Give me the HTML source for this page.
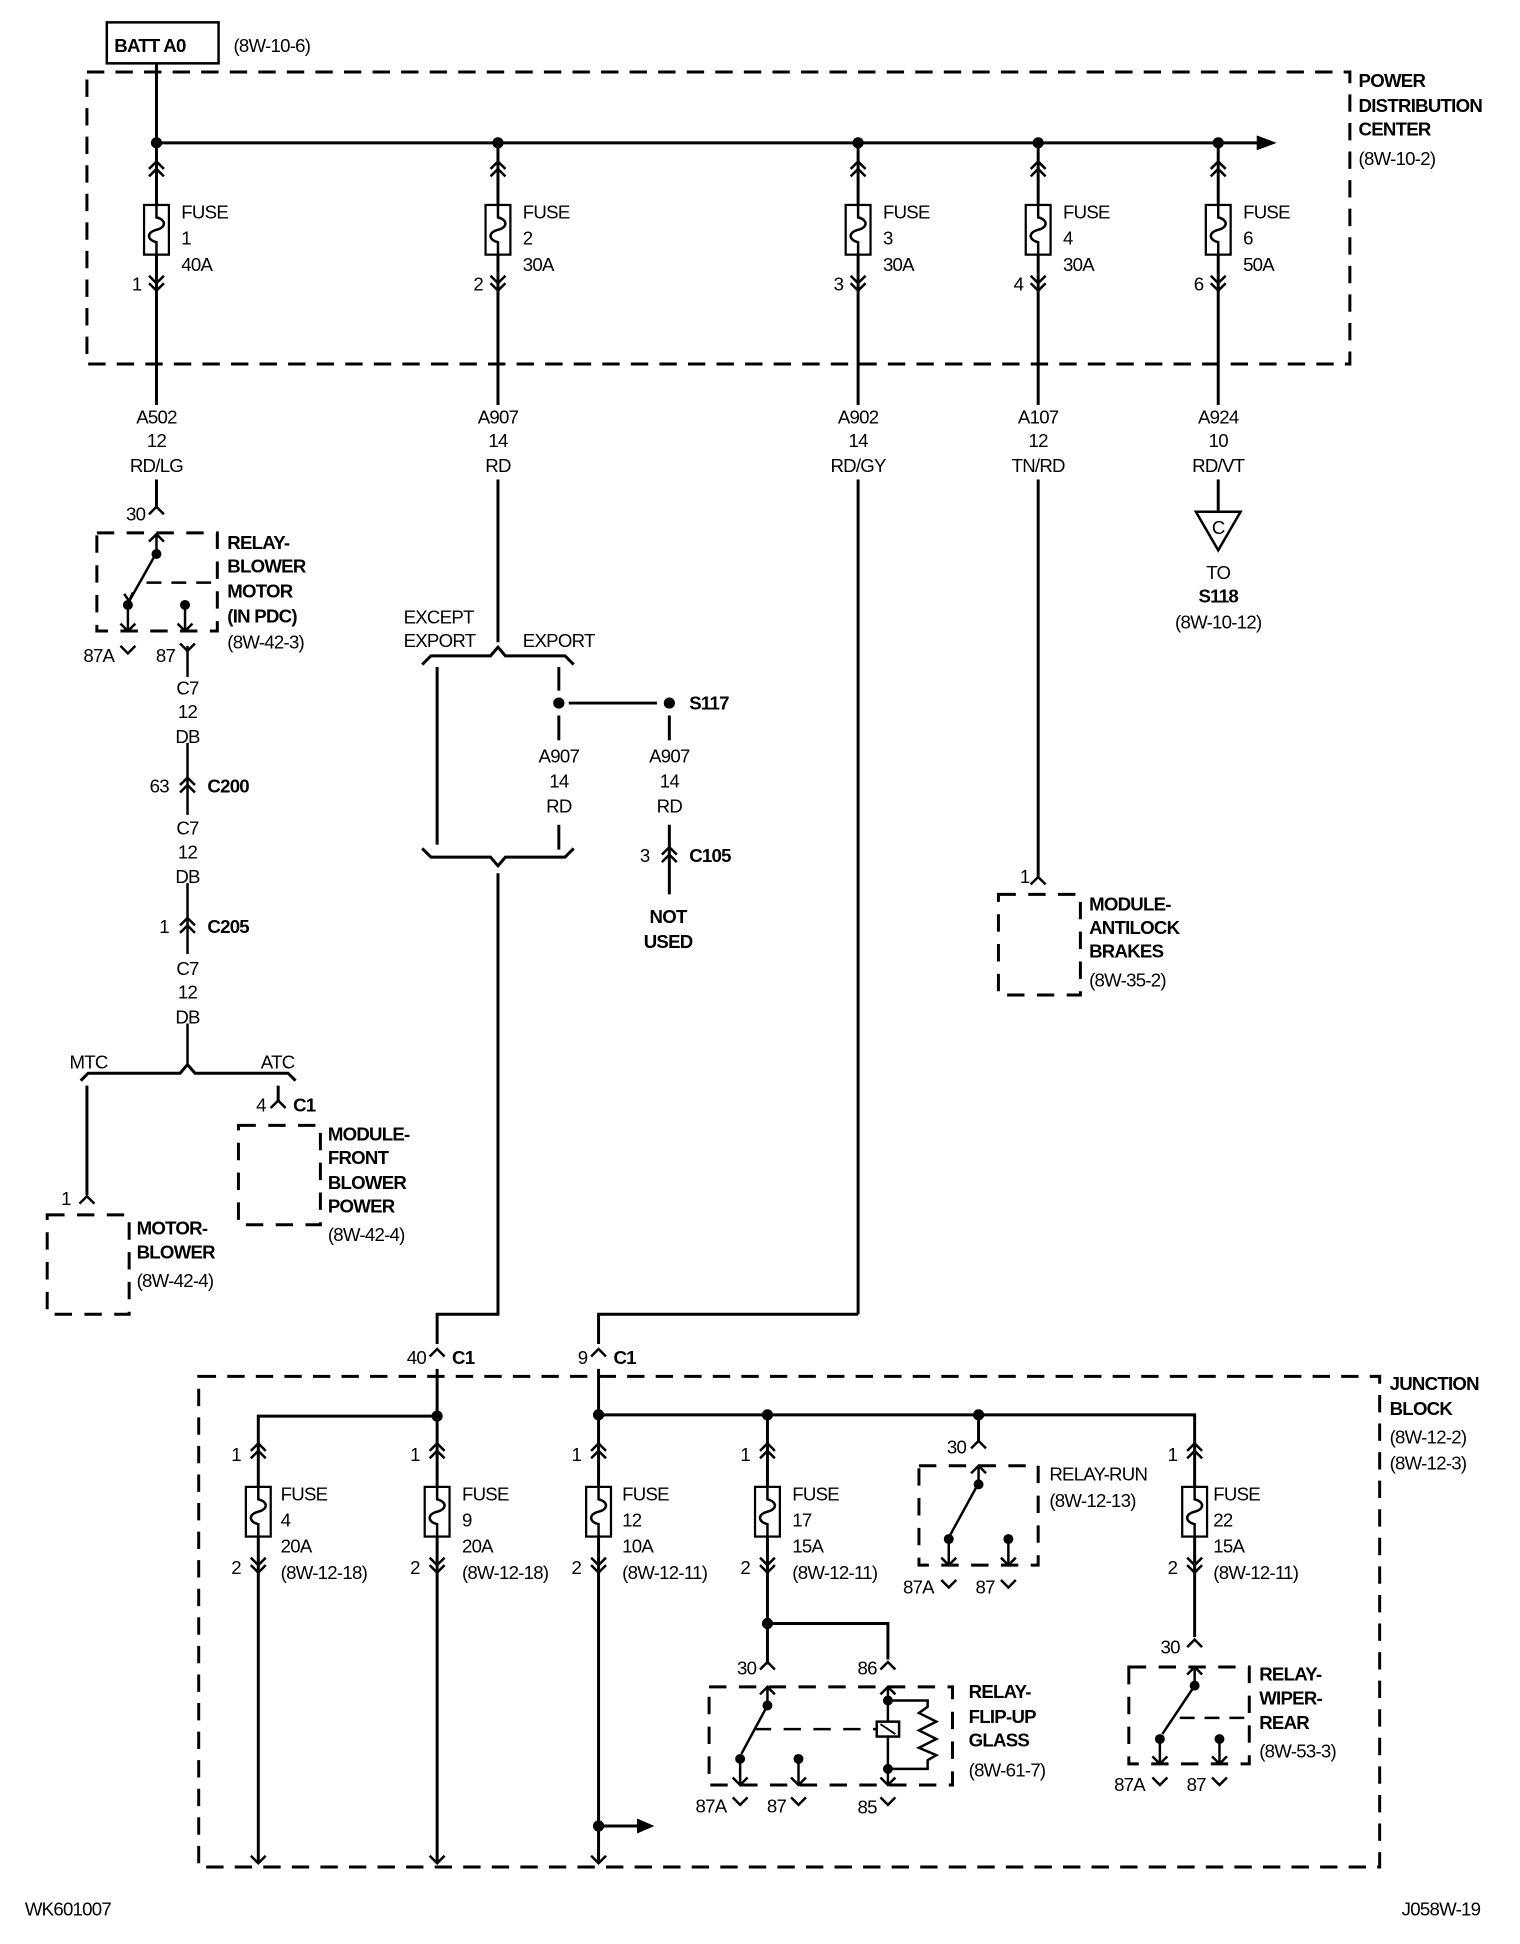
<!DOCTYPE html>
<html><head><meta charset="utf-8"><style>
html,body{margin:0;padding:0;background:#fff;}
svg{display:block;}
text{font-family:"Liberation Sans",Arial,sans-serif;font-size:15px;fill:#000;letter-spacing:-0.6px;}
.b{font-weight:bold;}
.m{text-anchor:middle;}
.e{text-anchor:end;}
</style></head><body>
<svg width="1520" height="1944" viewBox="0 0 1224 1565" preserveAspectRatio="none" xmlns="http://www.w3.org/2000/svg">
<defs>
<path id="cu2" d="M-6,8 L0,2 L6,8 M-6,14 L0,8 L6,14" fill="none" stroke="#000" stroke-width="2"/>
<path id="cd2" d="M-6,0 L0,6 L6,0 M-6,6 L0,12 L6,6" fill="none" stroke="#000" stroke-width="2"/>
<path id="cu1" d="M-6,6 L0,0 L6,6" fill="none" stroke="#000" stroke-width="2"/>
<path id="cd1" d="M-6,0 L0,6 L6,0" fill="none" stroke="#000" stroke-width="2"/>
<g id="fuse"><rect x="-10" y="0" width="20" height="40" fill="#fff" stroke="#000" stroke-width="1.8"/><path d="M0,0 L0,10 C8,12 8,18 0,20 C-8,22 -8,28 0,30 L0,40" fill="none" stroke="#000" stroke-width="2"/></g>
</defs>
<g stroke="#000" stroke-width="2.4" fill="none">
<rect x="70" y="58" width="1017" height="235" stroke-dasharray="14,9"/>
<rect x="86" y="18" width="90" height="33" stroke-width="2"/>
<line x1="126" y1="51" x2="126" y2="408"/>
<line x1="126" y1="115" x2="1015" y2="115"/>
<line x1="401" y1="115" x2="401" y2="517"/>
<line x1="691" y1="115" x2="691" y2="1058"/>
<line x1="836" y1="115" x2="836" y2="706"/>
<line x1="981" y1="115" x2="981" y2="412"/>
</g>
<path d="M1012,109 L1028,115 L1012,121 Z"/>
<g fill="#000"><circle cx="126" cy="115" r="4.5"/><circle cx="401" cy="115" r="4.5"/><circle cx="691" cy="115" r="4.5"/><circle cx="836" cy="115" r="4.5"/><circle cx="981" cy="115" r="4.5"/></g>
<text x="92" y="42" class="b">BATT A0</text>
<text x="188" y="42">(8W-10-6)</text>
<text x="1094" y="70" class="b">POWER</text><text x="1094" y="90" class="b">DISTRIBUTION</text><text x="1094" y="109" class="b">CENTER</text><text x="1094" y="133">(8W-10-2)</text>
<g>
<use href="#cu2" x="126" y="128"/><use href="#fuse" x="126" y="165"/><use href="#cd2" x="126" y="222"/>
<use href="#cu2" x="401" y="128"/><use href="#fuse" x="401" y="165"/><use href="#cd2" x="401" y="222"/>
<use href="#cu2" x="691" y="128"/><use href="#fuse" x="691" y="165"/><use href="#cd2" x="691" y="222"/>
<use href="#cu2" x="836" y="128"/><use href="#fuse" x="836" y="165"/><use href="#cd2" x="836" y="222"/>
<use href="#cu2" x="981" y="128"/><use href="#fuse" x="981" y="165"/><use href="#cd2" x="981" y="222"/>
</g>
<text x="146" y="176">FUSE</text><text x="146" y="197">1</text><text x="146" y="218">40A</text><text x="114" y="234" class="e">1</text>
<text x="421" y="176">FUSE</text><text x="421" y="197">2</text><text x="421" y="218">30A</text><text x="389" y="234" class="e">2</text>
<text x="711" y="176">FUSE</text><text x="711" y="197">3</text><text x="711" y="218">30A</text><text x="679" y="234" class="e">3</text>
<text x="856" y="176">FUSE</text><text x="856" y="197">4</text><text x="856" y="218">30A</text><text x="824" y="234" class="e">4</text>
<text x="1001" y="176">FUSE</text><text x="1001" y="197">6</text><text x="1001" y="218">50A</text><text x="969" y="234" class="e">6</text>
<g class="m">
<rect x="100" y="326" width="52" height="60" fill="#fff"/><text x="126" y="341" class="m">A502</text><text x="126" y="360" class="m">12</text><text x="126" y="380" class="m">RD/LG</text>
<rect x="375" y="326" width="52" height="60" fill="#fff"/><text x="401" y="341" class="m">A907</text><text x="401" y="360" class="m">14</text><text x="401" y="380" class="m">RD</text>
<rect x="665" y="326" width="52" height="60" fill="#fff"/><text x="691" y="341" class="m">A902</text><text x="691" y="360" class="m">14</text><text x="691" y="380" class="m">RD/GY</text>
<rect x="810" y="326" width="52" height="60" fill="#fff"/><text x="836" y="341" class="m">A107</text><text x="836" y="360" class="m">12</text><text x="836" y="380" class="m">TN/RD</text>
<rect x="955" y="326" width="52" height="60" fill="#fff"/><text x="981" y="341" class="m">A924</text><text x="981" y="360" class="m">10</text><text x="981" y="380" class="m">RD/VT</text>
</g>
<path d="M963,412 L999,412 L981,443 Z" fill="#fff" stroke="#000" stroke-width="2"/>
<text x="981" y="430" class="m">C</text>
<text x="981" y="466" class="m">TO</text><text x="981" y="485" class="m b">S118</text><text x="981" y="506" class="m">(8W-10-12)</text>

<use href="#cu1" x="126" y="408"/><text x="117" y="419" class="e">30</text>
<rect x="78" y="429" width="97" height="79" fill="none" stroke="#000" stroke-width="2.4" stroke-dasharray="14,10"/>
<g stroke="#000" stroke-width="2" fill="none">
<path d="M120,436 L126,430 L132,436 M126,430 L126,445"/>
<line x1="126" y1="445" x2="104" y2="484"/>
<path d="M100,478 L104,484 L107,477"/>
<line x1="118" y1="469" x2="175" y2="469" stroke-dasharray="12,8"/>
<line x1="103" y1="487" x2="103" y2="508"/><path d="M97,502 L103,508 L109,502"/>
<line x1="149" y1="487" x2="149" y2="508"/><path d="M143,502 L149,508 L155,502"/>
<line x1="151" y1="520" x2="151" y2="545"/>
<line x1="151" y1="598" x2="151" y2="656"/>
<line x1="151" y1="711" x2="151" y2="768"/>
<line x1="151" y1="824" x2="151" y2="856"/>
</g>
<g fill="#000"><circle cx="126" cy="446" r="4"/><circle cx="103" cy="487" r="4"/><circle cx="149" cy="487" r="4"/></g>
<use href="#cd1" x="103" y="520"/><path d="M145,518 L151,524 L157,518" stroke="#000" stroke-width="2" fill="none"/>
<text x="92" y="533" class="e">87A</text><text x="141" y="533" class="e">87</text>
<text x="183" y="442" class="b">RELAY-</text><text x="183" y="461" class="b">BLOWER</text><text x="183" y="481" class="b">MOTOR</text><text x="183" y="501" class="b">(IN PDC)</text><text x="183" y="522">(8W-42-3)</text>
<text x="151" y="559" class="m">C7</text><text x="151" y="578" class="m">12</text><text x="151" y="598" class="m">DB</text>
<use href="#cu2" x="151" y="624"/><text x="136" y="638" class="e">63</text><text x="167" y="638" class="b">C200</text>
<text x="151" y="672" class="m">C7</text><text x="151" y="691" class="m">12</text><text x="151" y="711" class="m">DB</text>
<use href="#cu2" x="151" y="737"/><text x="136" y="751" class="e">1</text><text x="167" y="751" class="b">C205</text>
<text x="151" y="785" class="m">C7</text><text x="151" y="804" class="m">12</text><text x="151" y="824" class="m">DB</text>
<g stroke="#000" stroke-width="2.4" fill="none">
<path d="M65,870 L71,864 L145,864 L151,857 L157,864 L232,864 L238,870"/>
<line x1="70" y1="874" x2="70" y2="962"/>
<line x1="224" y1="874" x2="224" y2="886"/>
<rect x="38" y="978" width="66" height="80" stroke-dasharray="14,10"/>
<rect x="192" y="906" width="66" height="80" stroke-dasharray="14,10"/>
<rect x="804" y="720" width="66" height="81" stroke-dasharray="14,10"/>
</g>
<text x="56" y="860">MTC</text><text x="210" y="860">ATC</text>
<use href="#cu1" x="70" y="963"/><text x="57" y="970" class="e">1</text>
<use href="#cu1" x="224" y="886"/><text x="214" y="895" class="e">4</text><text x="236" y="895" class="b">C1</text>
<text x="110" y="994" class="b">MOTOR-</text><text x="110" y="1013" class="b">BLOWER</text><text x="110" y="1036">(8W-42-4)</text>
<text x="264" y="918" class="b">MODULE-</text><text x="264" y="937" class="b">FRONT</text><text x="264" y="957" class="b">BLOWER</text><text x="264" y="976" class="b">POWER</text><text x="264" y="999">(8W-42-4)</text>
<use href="#cu1" x="836" y="706"/><text x="829" y="711" class="e">1</text>
<text x="877" y="733" class="b">MODULE-</text><text x="877" y="752" class="b">ANTILOCK</text><text x="877" y="771" class="b">BRAKES</text><text x="877" y="794">(8W-35-2)</text>

<text x="325" y="502">EXCEPT</text><text x="325" y="521">EXPORT</text><text x="421" y="521">EXPORT</text>
<g stroke="#000" stroke-width="2.4" fill="none">
<path d="M340,535 L347,528 L395,528 L401,521 L407,528 L455,528 L462,535"/>
<line x1="352" y1="537" x2="352" y2="680"/>
<line x1="450" y1="537" x2="450" y2="556"/><line x1="450" y1="576" x2="450" y2="596"/><line x1="450" y1="664" x2="450" y2="684"/>
<line x1="458" y1="566" x2="529" y2="566"/>
<line x1="539" y1="576" x2="539" y2="596"/><line x1="539" y1="664" x2="539" y2="720"/>
<path d="M340,683 L347,690 L395,690 L401,697 L407,690 L455,690 L462,683"/>
<path d="M401,703 L401,1058 L352,1058 L352,1500"/>
<path d="M691,1058 L482,1058 L482,1500"/>
</g>
<circle cx="450" cy="566" r="4.5"/><circle cx="539" cy="566" r="4.5"/>
<text x="555" y="571" class="b">S117</text>
<text x="450" y="614" class="m">A907</text><text x="450" y="634" class="m">14</text><text x="450" y="654" class="m">RD</text>
<text x="539" y="614" class="m">A907</text><text x="539" y="634" class="m">14</text><text x="539" y="654" class="m">RD</text>
<use href="#cu2" x="539" y="680"/><text x="523" y="694" class="e">3</text><text x="555" y="694" class="b">C105</text>
<text x="538" y="743" class="m b">NOT</text><text x="538" y="763" class="m b">USED</text>

<rect x="160" y="1108" width="951" height="395" fill="none" stroke="#000" stroke-width="2.4" stroke-dasharray="14,9"/>
<text x="1119" y="1119" class="b">JUNCTION</text><text x="1119" y="1139" class="b">BLOCK</text><text x="1119" y="1162">(8W-12-2)</text><text x="1119" y="1183">(8W-12-3)</text>
<rect x="338" y="1082" width="28" height="20" fill="#fff"/><rect x="468" y="1082" width="28" height="20" fill="#fff"/>
<use href="#cu1" x="352" y="1086"/><text x="343" y="1098" class="e">40</text><text x="364" y="1098" class="b">C1</text>
<use href="#cu1" x="482" y="1086"/><text x="473" y="1098" class="e">9</text><text x="494" y="1098" class="b">C1</text>
<g stroke="#000" stroke-width="2.4" fill="none">
<path d="M208,1500 L208,1140 L352,1140"/>
<path d="M482,1139 L962,1139 L962,1318"/>
<line x1="618" y1="1139" x2="618" y2="1340"/>
<line x1="788" y1="1139" x2="788" y2="1160"/>
<path d="M618,1307 L715,1307 L715,1336"/>
<line x1="482" y1="1470" x2="515" y2="1470"/>
</g>
<path d="M513,1464 L527,1470 L513,1476 Z"/>
<g fill="#000"><circle cx="352" cy="1140" r="4.5"/><circle cx="482" cy="1139" r="4.5"/><circle cx="618" cy="1139" r="4.5"/><circle cx="788" cy="1139" r="4.5"/><circle cx="618" cy="1307" r="4.5"/><circle cx="482" cy="1470" r="4.5"/></g>
<use href="#cd1" x="208" y="1494"/><use href="#cd1" x="352" y="1494"/><use href="#cd1" x="482" y="1494"/>
<use href="#cu2" x="208" y="1160"/><use href="#fuse" x="208" y="1197"/><use href="#cd2" x="208" y="1254"/>
<use href="#cu2" x="352" y="1160"/><use href="#fuse" x="352" y="1197"/><use href="#cd2" x="352" y="1254"/>
<use href="#cu2" x="482" y="1160"/><use href="#fuse" x="482" y="1197"/><use href="#cd2" x="482" y="1254"/>
<use href="#cu2" x="618" y="1160"/><use href="#fuse" x="618" y="1197"/><use href="#cd2" x="618" y="1254"/>
<use href="#cu2" x="962" y="1160"/><use href="#fuse" x="962" y="1197"/><use href="#cd2" x="962" y="1254"/>
<text x="194" y="1176" class="e">1</text><text x="194" y="1267" class="e">2</text><text x="226" y="1208">FUSE</text><text x="226" y="1229">4</text><text x="226" y="1250">20A</text><text x="226" y="1271">(8W-12-18)</text>
<text x="338" y="1176" class="e">1</text><text x="338" y="1267" class="e">2</text><text x="372" y="1208">FUSE</text><text x="372" y="1229">9</text><text x="372" y="1250">20A</text><text x="372" y="1271">(8W-12-18)</text>
<text x="468" y="1176" class="e">1</text><text x="468" y="1267" class="e">2</text><text x="501" y="1208">FUSE</text><text x="501" y="1229">12</text><text x="501" y="1250">10A</text><text x="501" y="1271">(8W-12-11)</text>
<text x="604" y="1176" class="e">1</text><text x="604" y="1267" class="e">2</text><text x="638" y="1208">FUSE</text><text x="638" y="1229">17</text><text x="638" y="1250">15A</text><text x="638" y="1271">(8W-12-11)</text>
<text x="948" y="1176" class="e">1</text><text x="948" y="1267" class="e">2</text><text x="977" y="1208">FUSE</text><text x="977" y="1229">22</text><text x="977" y="1250">15A</text><text x="977" y="1271">(8W-12-11)</text>

<use href="#cu1" x="788" y="1160"/><text x="778" y="1170" class="e">30</text>
<rect x="740" y="1180" width="96" height="80" fill="none" stroke="#000" stroke-width="2.4" stroke-dasharray="14,10"/>
<g stroke="#000" stroke-width="2" fill="none">
<path d="M782,1186 L788,1180 L794,1186 M788,1180 L788,1194"/>
<line x1="788" y1="1194" x2="765" y2="1236"/>
<line x1="764" y1="1240" x2="764" y2="1260"/><path d="M758,1254 L764,1260 L770,1254"/>
<line x1="812" y1="1240" x2="812" y2="1260"/><path d="M806,1254 L812,1260 L818,1254"/>
</g>
<g fill="#000"><circle cx="788" cy="1195" r="4"/><circle cx="764" cy="1239" r="4"/><circle cx="812" cy="1239" r="4"/></g>
<use href="#cd1" x="764" y="1272"/><use href="#cd1" x="812" y="1272"/>
<text x="752" y="1283" class="e">87A</text><text x="801" y="1283" class="e">87</text>
<text x="845" y="1192">RELAY-RUN</text><text x="845" y="1213">(8W-12-13)</text>

<use href="#cu1" x="618" y="1338"/><text x="609" y="1348" class="e">30</text>
<use href="#cu1" x="715" y="1338"/><text x="706" y="1348" class="e">86</text>
<rect x="571" y="1358" width="196" height="79" fill="none" stroke="#000" stroke-width="2.4" stroke-dasharray="14,10"/>
<g stroke="#000" stroke-width="2" fill="none">
<path d="M612,1364 L618,1358 L624,1364 M618,1358 L618,1373"/>
<line x1="618" y1="1373" x2="597" y2="1412"/>
<line x1="607" y1="1392" x2="706" y2="1392" stroke-dasharray="14,10"/>
<line x1="596" y1="1416" x2="596" y2="1437"/><path d="M590,1431 L596,1437 L602,1431"/>
<line x1="643" y1="1416" x2="643" y2="1437"/><path d="M637,1431 L643,1437 L649,1431"/>
<path d="M709,1364 L715,1358 L721,1364 M715,1358 L715,1437"/><path d="M709,1431 L715,1437 L721,1431"/>
<path d="M715,1369 L747,1369 L747,1374 L740,1379 L754,1386 L740,1393 L754,1400 L740,1407 L754,1413 L747,1417 L747,1424 L715,1424"/>
</g>
<rect x="706" y="1386" width="18" height="12" fill="#fff" stroke="#000" stroke-width="2"/>
<line x1="709" y1="1388" x2="721" y2="1396" stroke="#000" stroke-width="1.5"/>
<g fill="#000"><circle cx="618" cy="1373" r="4"/><circle cx="596" cy="1416" r="4"/><circle cx="643" cy="1416" r="4"/><circle cx="715" cy="1369" r="4"/><circle cx="715" cy="1424" r="4"/></g>
<use href="#cd1" x="596" y="1447"/><use href="#cd1" x="643" y="1447"/><use href="#cd1" x="715" y="1447"/>
<text x="585" y="1459" class="e">87A</text><text x="633" y="1459" class="e">87</text><text x="706" y="1460" class="e">85</text>
<text x="780" y="1367" class="b">RELAY-</text><text x="780" y="1387" class="b">FLIP-UP</text><text x="780" y="1406" class="b">GLASS</text><text x="780" y="1430">(8W-61-7)</text>

<use href="#cu1" x="962" y="1320"/><text x="950" y="1331" class="e">30</text>
<rect x="909" y="1342" width="97" height="78" fill="none" stroke="#000" stroke-width="2.4" stroke-dasharray="14,10"/>
<g stroke="#000" stroke-width="2" fill="none">
<path d="M956,1348 L962,1342 L968,1348 M962,1342 L962,1357"/>
<line x1="962" y1="1357" x2="936" y2="1396"/>
<line x1="950" y1="1383" x2="1006" y2="1383" stroke-dasharray="12,8"/>
<line x1="934" y1="1400" x2="934" y2="1420"/><path d="M928,1414 L934,1420 L940,1414"/>
<line x1="982" y1="1400" x2="982" y2="1420"/><path d="M976,1414 L982,1420 L988,1414"/>
</g>
<g fill="#000"><circle cx="962" cy="1357" r="4"/><circle cx="934" cy="1400" r="4"/><circle cx="982" cy="1400" r="4"/></g>
<use href="#cd1" x="934" y="1431"/><use href="#cd1" x="982" y="1431"/>
<text x="922" y="1442" class="e">87A</text><text x="971" y="1442" class="e">87</text>
<text x="1014" y="1353" class="b">RELAY-</text><text x="1014" y="1372" class="b">WIPER-</text><text x="1014" y="1392" class="b">REAR</text><text x="1014" y="1415">(8W-53-3)</text>

<text x="20" y="1542">WK601007</text>
<text x="1192" y="1542" class="e">J058W-19</text>
</svg>
</body></html>
